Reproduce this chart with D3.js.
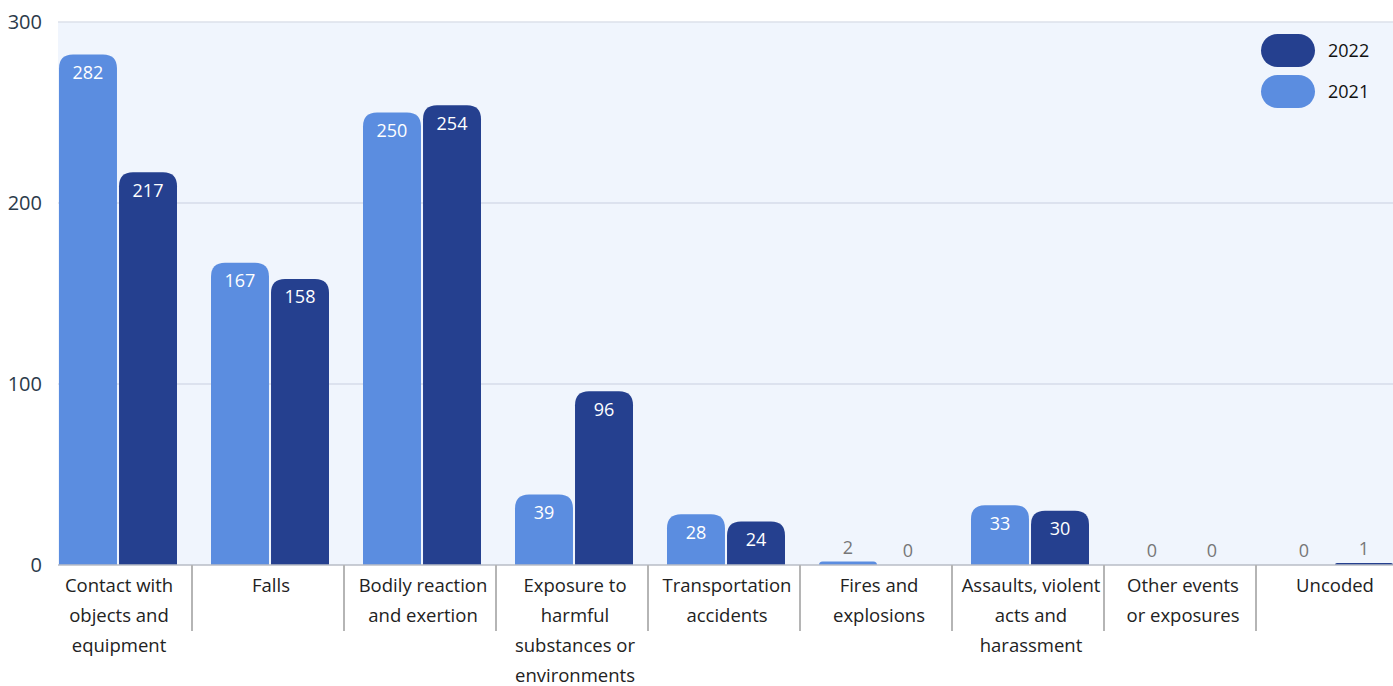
<!DOCTYPE html>
<html>
<head>
<meta charset="utf-8">
<script src="https://cdn.jsdelivr.net/npm/d3@7"></script>
<style>
  body { margin: 0; background: #fff; }
  svg { display: block; font-family: "Open Sans", sans-serif; }
</style>
</head>
<body>
<svg id="chart" width="1393" height="686"></svg>
<script>
var categories = [
  ["Contact with", "objects and", "equipment"],
  ["Falls"],
  ["Bodily reaction", "and exertion"],
  ["Exposure to", "harmful", "substances or", "environments"],
  ["Transportation", "accidents"],
  ["Fires and", "explosions"],
  ["Assaults, violent", "acts and", "harassment"],
  ["Other events", "or exposures"],
  ["Uncoded"]
];
var values2021 = [282, 167, 250, 39, 28, 2, 33, 0, 0];
var values2022 = [217, 158, 254, 96, 24, 0, 30, 0, 1];
var seriesNames = ["2021", "2022"];
var yTicks = [0, 100, 200, 300];

var svg = d3.select("svg#chart"),
  margin = { top: 22, right: 0, bottom: 121, left: 58 },
  width = +svg.attr("width") - margin.left - margin.right,
  height = +svg.attr("height") - margin.top - margin.bottom,
  g = svg.append("g").attr("transform", "translate(" + margin.left + "," + margin.top + ")");

var colors = { "2021": "#5b8de0", "2022": "#25408f" };

var keys = categories.map(function (d, i) { return i; });
var data = keys.map(function (i) {
  return { cat: i, values: [values2021[i], values2022[i]] };
});

// the last group's padding falls outside the plot area
var x0 = d3.scaleBand().domain(keys).range([0, width + 33]);
var x1 = d3.scaleBand().domain(seriesNames).range([1, 119]).paddingInner(0.034);
var y = d3.scaleLinear().domain([0, 300]).range([height, 0]);

// background
g.append("rect").attr("width", width).attr("height", height).attr("fill", "#f0f5fd");
g.append("line").attr("x1", 0).attr("x2", width).attr("y1", 0).attr("y2", 0)
  .attr("stroke", "#dde1ea").attr("stroke-width", 1.5);

// grid
g.append("g").selectAll("line")
  .data(yTicks.filter(function (d) { return d > 0 && d < 300; }))
  .enter().append("line")
  .attr("x1", 0).attr("x2", width)
  .attr("y1", function (d) { return y(d); }).attr("y2", function (d) { return y(d); })
  .attr("stroke", "#c9cfe0").attr("stroke-width", 1);

// y labels
g.append("g").selectAll("text")
  .data(yTicks).enter().append("text")
  .attr("x", -16).attr("y", function (d) { return y(d); })
  .attr("dy", "0.35em").attr("text-anchor", "end")
  .attr("font-size", 20).attr("fill", "#2b3a4a")
  .text(function (d) { return d; });

function topRounded(x, yTop, w, h, r) {
  r = Math.min(r, h, w / 2);
  return "M" + x + "," + (yTop + h) +
    "V" + (yTop + r) +
    "Q" + x + "," + yTop + " " + (x + r) + "," + yTop +
    "H" + (x + w - r) +
    "Q" + (x + w) + "," + yTop + " " + (x + w) + "," + (yTop + r) +
    "V" + (yTop + h) + "Z";
}

var groups = g.append("g").selectAll("g")
  .data(data).enter().append("g")
  .attr("transform", function (d) { return "translate(" + x0(d.cat) + ",0)"; });

var bars = groups.selectAll("g")
  .data(function (d) {
    return seriesNames.map(function (s, j) { return { key: s, value: d.values[j] }; });
  })
  .enter().append("g");

bars.filter(function (d) { return d.value > 0; })
  .append("path")
  .attr("fill", function (d) { return colors[d.key]; })
  .attr("d", function (d) {
    var h = Math.max(height - y(d.value), 2);
    return topRounded(x1(d.key), height - h, x1.bandwidth(), h, 14);
  });

bars.append("text")
  .attr("x", function (d) { return x1(d.key) + x1.bandwidth() / 2; })
  .attr("y", function (d) {
    var inside = height - y(d.value) > 30;
    return inside ? y(d.value) + 18 : y(d.value) - 14;
  })
  .attr("dy", "0.35em")
  .attr("text-anchor", "middle")
  .attr("font-size", 18)
  .attr("fill", function (d) { return height - y(d.value) > 30 ? "#fff" : "#777"; })
  .text(function (d) { return d.value; });

// baseline
g.append("line").attr("x1", 0).attr("x2", width).attr("y1", height).attr("y2", height)
  .attr("stroke", "#b8bcc6").attr("stroke-width", 1.5);

// category separators
g.append("g").selectAll("line")
  .data(keys.slice(1)).enter().append("line")
  .attr("x1", function (d) { return x0(d) - 18; })
  .attr("x2", function (d) { return x0(d) - 18; })
  .attr("y1", height).attr("y2", height + 66)
  .attr("stroke", "#b5b5b5").attr("stroke-width", 2);

// category labels
var labels = g.append("g").selectAll("text")
  .data(data).enter().append("text")
  .attr("text-anchor", "middle")
  .attr("font-size", 18.5).attr("fill", "#222")
  .attr("transform", function (d) {
    return "translate(" + (x0(d.cat) + 61) + "," + (height + 27) + ")";
  });
labels.selectAll("tspan")
  .data(function (d) { return categories[d.cat]; })
  .enter().append("tspan")
  .attr("x", 0).attr("y", function (d, i) { return i * 30; })
  .text(function (d) { return d; });

// legend
var legend = svg.append("g")
  .selectAll("g")
  .data(seriesNames.slice().reverse())
  .enter().append("g")
  .attr("transform", function (d, i) { return "translate(1261," + (34 + i * 41) + ")"; });
legend.append("rect")
  .attr("width", 54).attr("height", 33).attr("rx", 16.5)
  .attr("fill", function (d) { return colors[d]; });
legend.append("text")
  .attr("x", 67).attr("y", 16.5).attr("dy", "0.35em")
  .attr("font-size", 18).attr("fill", "#111")
  .text(function (d) { return d; });
</script>
</body>
</html>
